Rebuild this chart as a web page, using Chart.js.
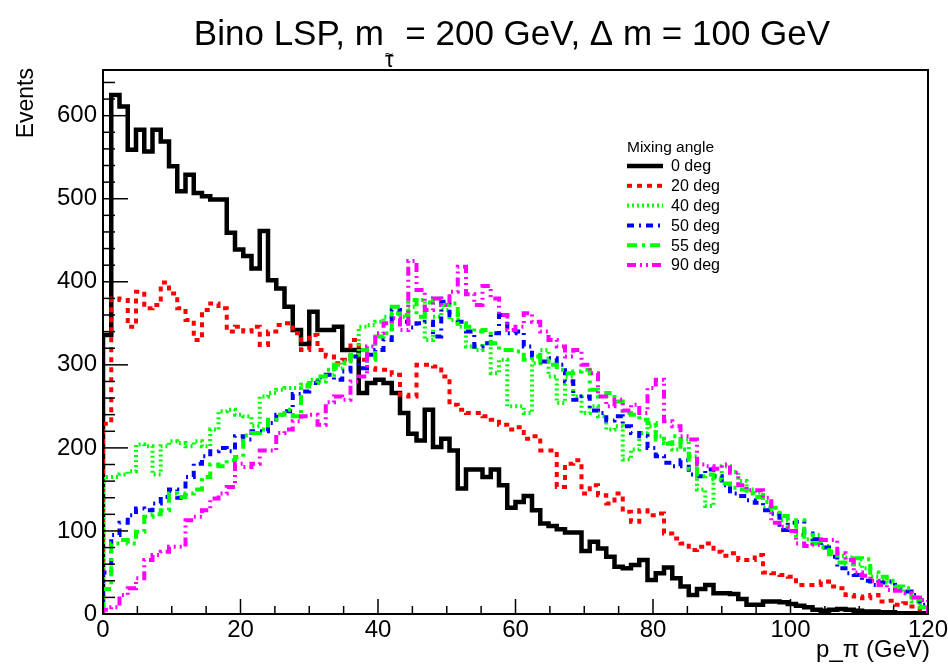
<!DOCTYPE html>
<html><head><meta charset="utf-8">
<script src="https://cdn.jsdelivr.net/npm/chart.js@4/dist/chart.umd.min.js"></script>
<style>html,body{margin:0;padding:0;background:#fff;overflow:hidden}canvas{display:block}</style>
</head><body>
<canvas id="c" width="948" height="664"></canvas>
<script>
// ---- data (100 bins of 1.2 GeV, 0-120 GeV) ----
const X_MIN = 0, X_MAX = 120, NBINS = 100;
const binLow = Array.from({length: NBINS}, (_, i) => +(X_MIN + i * (X_MAX - X_MIN) / NBINS).toFixed(2));
const seriesLabels = ['0 deg', '20 deg', '40 deg', '50 deg', '55 deg', '90 deg'];
const xTickValues = [0, 20, 40, 60, 80, 100, 120];
const yTickValues = [0, 100, 200, 300, 400, 500, 600];

const deg0 = [336,625,611,559,583,557,583,569,539,509,
  529,507,503,499,499,459,439,431,416,461,
  402,392,370,342,325,364,342,342,346,318,
  318,266,278,282,278,266,242,217,209,246,
  201,211,197,151,174,174,165,174,155,128,
  135,142,125,109,106,102,98,98,76,87,
  79,69,57,55,59,65,41,49,56,43,
  33,23,30,35,25,25,24,18,11,11,
  15,15,14,12,10,8,5,4,5,6,
  5,4,3,3,2,2,1,1,1,1];
const deg20 = [229,380,378,346,388,368,372,399,386,368,
  354,330,366,374,368,340,346,340,346,324,
  340,348,350,338,318,336,318,310,302,306,
  330,306,296,294,294,288,264,262,300,300,
  298,286,252,246,242,242,238,234,228,222,
  225,211,214,197,197,153,181,185,145,155,
  143,133,145,123,111,125,119,121,97,91,
  85,77,81,85,75,70,73,65,65,71,
  50,49,47,45,35,35,35,39,33,31,
  23,21,19,23,15,16,11,13,9,6];
const deg40 = [165,165,168,172,204,202,168,202,208,206,
  202,208,202,222,244,246,240,238,226,262,
  266,270,272,272,276,282,280,288,296,304,
  310,346,348,352,358,362,358,370,378,330,
  358,366,354,346,322,318,326,290,306,250,
  250,242,302,318,286,254,286,262,242,250,
  238,222,226,186,198,218,226,214,206,198,
  210,190,150,130,166,178,171,160,150,146,
  128,120,113,100,95,90,95,82,75,70,
  68,60,55,45,40,38,30,25,15,8];
const deg50 = [50,95,110,119,127,125,133,141,150,140,
  165,181,190,196,200,196,214,210,220,220,
  230,240,244,265,268,278,285,288,282,292,
  310,296,312,318,330,366,352,345,350,352,
  334,376,360,352,340,322,326,338,360,338,
  340,322,310,304,308,300,280,258,262,245,
  242,233,238,226,218,214,200,190,182,178,
  185,168,166,174,166,155,145,142,137,134,
  125,121,101,110,111,97,90,80,69,55,
  49,47,40,35,38,39,29,27,23,11];
const deg55 = [30,85,89,85,99,117,120,125,145,141,
  145,150,165,180,178,185,189,215,218,222,
  234,240,246,238,274,278,286,294,300,302,
  312,318,306,334,338,370,360,378,358,375,
  380,372,374,350,346,340,342,326,318,318,
  316,306,310,305,300,294,290,292,294,270,
  262,266,256,242,240,234,230,210,205,214,
  198,175,166,168,162,157,152,150,145,141,
  135,128,118,105,113,95,85,80,72,62,
  60,67,66,50,45,40,33,31,20,8];
const deg90 = [5,8,23,31,43,65,71,75,81,81,
  113,117,125,139,145,153,181,177,181,197,
  197,218,222,232,238,240,228,255,262,258,
  280,286,322,338,350,356,342,425,390,366,
  380,372,388,418,385,372,395,380,360,342,
  346,362,352,340,330,322,310,318,300,290,
  262,250,258,245,252,242,272,282,232,226,
  214,210,180,178,175,180,170,155,149,149,
  140,110,105,100,85,82,83,89,89,73,
  65,50,46,40,35,29,28,25,20,17];

// ---- styles ----
const FONT = "'Liberation Sans', Arial, Helvetica, sans-serif";
const styles = [
  {color: '#000000', width: 4.5, dash: []},
  {color: '#ff0000', width: 4, dash: [5, 5]},
  {color: '#00ff00', width: 4, dash: [2, 3]},
  {color: '#0000ff', width: 4, dash: [7, 5, 2, 5]},
  {color: '#00ff00', width: 4, dash: [10, 5, 3, 5]},
  {color: '#ff00ff', width: 4, dash: [9, 4, 2, 4, 2, 4]}
];
const allSeries = [deg0, deg20, deg40, deg50, deg55, deg90];

function histPoints(vals) {
  const pts = [{x: X_MIN, y: 0}];
  vals.forEach((v, i) => pts.push({x: binLow[i], y: v}));
  pts.push({x: X_MAX, y: vals[vals.length - 1]});
  pts.push({x: X_MAX, y: 0});
  return pts;
}

const datasets = allSeries.map((vals, i) => ({
  label: seriesLabels[i],
  data: histPoints(vals),
  borderColor: styles[i].color,
  borderWidth: styles[i].width,
  borderDash: styles[i].dash,
  borderCapStyle: 'butt',
  borderJoinStyle: 'miter',
  stepped: 'before',
  pointRadius: 0,
  fill: false,
  order: allSeries.length - i
}));

function txt(ctx, s, x, y, size, align, baseline) {
  ctx.font = size + 'px ' + FONT;
  ctx.textAlign = align || 'left';
  ctx.textBaseline = baseline || 'alphabetic';
  ctx.fillText(s, x, y);
}

const rootDecor = {
  id: 'rootDecor',
  afterDraw(chart) {
    const {ctx, chartArea: a, scales: {x, y}} = chart;
    ctx.save();
    ctx.fillStyle = '#000';
    ctx.strokeStyle = '#000';
    // inward ticks
    ctx.lineWidth = 1.5;
    for (let v = 0; v <= y.max; v += 20) {
      const py = y.getPixelForValue(v);
      const len = v % 100 === 0 ? 25 : 12;
      ctx.beginPath(); ctx.moveTo(a.left, py); ctx.lineTo(a.left + len, py); ctx.stroke();
    }
    for (let v = X_MIN; v <= X_MAX; v += 5) {
      const px = x.getPixelForValue(v);
      const len = v % 20 === 0 ? 15 : 8;
      ctx.beginPath(); ctx.moveTo(px, a.bottom); ctx.lineTo(px, a.bottom - len); ctx.stroke();
    }
    // frame
    ctx.lineWidth = 2;
    ctx.strokeRect(a.left, a.top, a.right - a.left, a.bottom - a.top);

    // title with subscript (tau with tilde)
    const p1 = 'Bino LSP, m', sub = 'τ', p2 = ' = 200 GeV, Δ m = 100 GeV';
    ctx.font = '35px ' + FONT; const w1 = ctx.measureText(p1).width, w2 = ctx.measureText(p2).width;
    ctx.font = '22px ' + FONT; const ws = ctx.measureText(sub).width;
    let tx = 512 - (w1 + ws + 3 + w2) / 2;
    txt(ctx, p1, tx, 45, 35); tx += w1 + 1;
    txt(ctx, sub, tx, 67, 22);
    txt(ctx, '~', tx + ws / 2, 59, 15, 'center');
    tx += ws + 2;
    txt(ctx, p2, tx, 45, 35);

    // axis titles
    txt(ctx, 'p_π (GeV)', 930, 657, 24, 'right');
    ctx.save();
    ctx.translate(33, 68);
    ctx.rotate(-Math.PI / 2);
    txt(ctx, 'Events', 0, 0, 23, 'right');
    ctx.restore();

    // legend
    txt(ctx, 'Mixing angle', 627, 148, 15.5, 'left', 'middle');
    datasets.forEach((d, i) => {
      const ly = 166 + i * 19.8;
      ctx.save();
      ctx.strokeStyle = d.borderColor; ctx.lineWidth = d.borderWidth;
      ctx.setLineDash(d.borderDash); ctx.lineCap = 'butt';
      ctx.beginPath(); ctx.moveTo(627, ly); ctx.lineTo(663, ly); ctx.stroke();
      ctx.restore();
      txt(ctx, d.label, 671, ly + 1, 16, 'left', 'middle');
    });
    ctx.restore();
  }
};

new Chart(document.getElementById('c'), {
  type: 'line',
  data: {datasets},
  options: {
    responsive: false,
    animation: false,
    devicePixelRatio: 1,
    layout: {padding: {top: 70, right: 20, left: 0, bottom: 0}},
    plugins: {legend: {display: false}, title: {display: false}, tooltip: {enabled: false}},
    scales: {
      x: {
        type: 'linear', min: X_MIN, max: X_MAX,
        afterBuildTicks: s => { s.ticks = xTickValues.map(v => ({value: v})); },
        afterFit: s => { s.height = 50; s.paddingLeft = 0; s.paddingRight = 0; },
        ticks: {font: {family: FONT, size: 24}, color: '#000', padding: 2, maxRotation: 0, autoSkip: false},
        grid: {display: false, drawTicks: false},
        border: {display: false}
      },
      y: {
        type: 'linear', min: 0, max: 655,
        afterBuildTicks: s => { s.ticks = yTickValues.map(v => ({value: v})); },
        afterFit: s => { s.width = 103; s.paddingTop = 0; s.paddingBottom = 0; },
        ticks: {font: {family: FONT, size: 24}, color: '#000', padding: 6, autoSkip: false},
        grid: {display: false, drawTicks: false},
        border: {display: false}
      }
    }
  },
  plugins: [rootDecor]
});
</script>
</body></html>
